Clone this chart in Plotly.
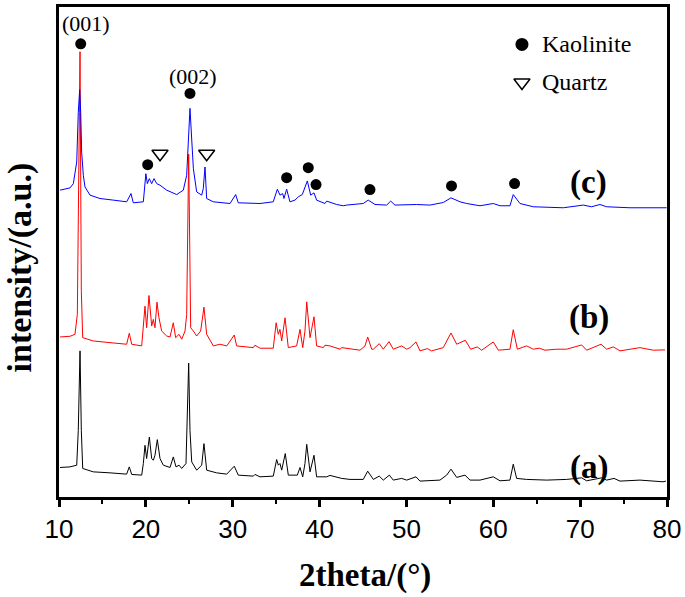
import plotly.graph_objects as go

# ---- data (2theta in degrees, intensity in a.u.) ----
two_theta_a = [10.12, 11.27, 12.04, 12.22, 12.42, 12.57, 12.73, 13.95, 15.87, 17.79, 18.09, 18.37, 19.52, 19.71,
               19.90, 20.09, 20.40, 20.67, 20.86, 21.05, 21.32, 21.63, 22.01, 22.78, 23.16, 23.47, 23.82, 24.13,
               24.62, 24.93, 25.08, 25.28, 25.85, 26.43, 26.69, 27.00, 28.15, 29.31, 30.18, 30.64, 32.37, 32.56,
               33.14, 34.67, 35.06, 35.25, 35.44, 35.64, 36.05, 36.40, 37.44, 37.75, 38.06, 38.32, 38.52, 38.90,
               39.36, 39.66, 40.82, 41.20, 42.55, 43.50, 45.03, 45.54, 46.19, 46.87, 47.34, 48.03, 48.49, 49.45,
               50.03, 51.10, 51.56, 53.86, 54.63, 55.13, 55.79, 56.74, 57.32, 58.47, 60.00, 60.77, 61.92, 62.30,
               62.69, 63.84, 66.15, 68.45, 70.17, 70.75, 72.48, 73.05, 73.90, 74.59, 76.89, 79.54, 79.88]
intensity_a = [29.7, 30.3, 32, 67, 147, 67, 28.7, 25.3, 24.3, 23, 30.3, 22.7, 22, 33.7,
               52, 38.7, 60.3, 38.7, 37, 42, 57.7, 38.7, 32, 29.7, 40.3, 30.3, 32, 28.7,
               33.7, 134.7, 67, 35.3, 27, 32, 53.7, 27, 24.3, 23, 31, 22, 21, 22.7,
               20.3, 21, 37.7, 32, 33.7, 27, 43.7, 22, 22, 29.7, 20.3, 33.7, 53, 25.3,
               42, 20.3, 20.3, 21.7, 18.7, 17.7, 17.7, 26, 17.7, 21, 17, 22, 17, 18.7,
               17, 20.3, 16, 17, 22, 28, 19.7, 22, 17, 17, 20.3, 16.3, 17, 33,
               18.7, 17.7, 17, 17.7, 19.3, 16.3, 19.3, 17, 18.7, 16, 17, 15.3, 16]

two_theta_b = [10.12, 11.27, 11.84, 12.11, 12.42, 12.57, 12.73, 13.95, 15.87, 17.79, 18.09, 18.37, 19.52, 19.71,
               19.90, 20.09, 20.36, 20.67, 20.86, 21.05, 21.28, 21.51, 21.82, 22.40, 22.78, 23.16, 23.43, 23.82,
               24.13, 24.51, 24.70, 24.93, 25.16, 25.47, 25.85, 26.31, 26.69, 27.00, 27.77, 28.54, 29.31, 30.18,
               30.45, 32.37, 32.56, 33.14, 34.67, 35.00, 35.25, 35.44, 35.64, 36.02, 36.40, 37.36, 37.75, 38.06,
               38.32, 38.52, 38.90, 39.36, 39.66, 40.43, 40.62, 41.20, 42.35, 42.55, 44.65, 45.23, 45.54, 46.00,
               46.19, 46.87, 47.34, 48.00, 48.49, 49.45, 50.03, 50.41, 51.10, 51.56, 52.40, 52.90, 54.24, 55.13,
               55.79, 56.78, 57.40, 58.16, 58.66, 60.00, 60.58, 61.92, 62.30, 62.77, 63.84, 64.61, 65.30, 65.95,
               67.30, 68.45, 70.17, 70.75, 72.40, 73.05, 73.82, 74.59, 76.89, 77.46, 78.42, 79.77]
intensity_b = [31, 31.7, 33.7, 53.7, 318, 77, 30.3, 27, 25.3, 23.7, 34.7, 23.7, 22, 40.3,
               62, 40.3, 72.7, 42, 48.7, 40.3, 66, 50.3, 37, 32, 31, 45.3, 30.3, 33.7,
               28.7, 37, 53.7, 215, 40.3, 37, 32, 37, 61, 33.7, 22, 23.7, 22, 33,
               22, 20.3, 22.7, 19.7, 19.7, 45.3, 33.7, 38.7, 27, 50.3, 20.3, 22, 38.7, 20.3,
               37, 66.3, 30.3, 51.3, 22, 20.3, 22.7, 22, 18.7, 20.3, 17.7, 22, 31, 18.7,
               18.7, 24.3, 18.7, 26.3, 18.7, 22, 18.7, 20.3, 26, 17, 19.3, 17, 20.3, 35,
               23.7, 27.7, 18.7, 21, 17.7, 26, 17.7, 18.7, 38.3, 18.7, 22, 18.7, 19.7, 17.7,
               18.7, 18.7, 23, 17.7, 23.7, 18.7, 21, 17, 20.3, 19.3, 17.7, 18]

two_theta_c = [10.12, 11.27, 11.65, 12.04, 12.22, 12.38, 12.50, 12.61, 12.80, 12.99, 13.57, 14.72, 16.25, 17.79,
               18.29, 18.55, 19.71, 20.00, 20.17, 20.40, 20.67, 20.94, 21.25, 21.63, 22.40, 23.55, 24.31, 24.70,
               25.08, 25.28, 25.47, 25.85, 26.43, 26.61, 26.81, 27.00, 27.77, 29.69, 30.34, 30.64, 33.14, 34.67,
               35.14, 35.44, 35.75, 35.90, 36.21, 36.59, 37.17, 37.55, 38.01, 38.59, 38.98, 39.36, 39.66, 40.62,
               40.82, 41.97, 42.73, 43.12, 45.03, 45.60, 46.38, 47.73, 48.19, 48.68, 50.03, 51.18, 52.71, 54.24,
               55.13, 56.17, 56.94, 58.47, 60.00, 60.77, 61.92, 62.30, 63.07, 64.61, 68.06, 70.36, 71.32, 72.28,
               73.05, 75.74, 79.96]
intensity_c = [38.7, 41, 45.3, 67, 117, 139.7, 117, 77, 53.7, 42, 33.7, 30.3, 28.7, 27,
               35.3, 26, 27, 55.3, 45.3, 50.3, 45.3, 50.3, 45.3, 43.7, 38.7, 34.3, 38.7, 53.7,
               121, 93.7, 60.3, 37, 33.7, 40.3, 62, 30.3, 27, 25.3, 34.3, 26, 25.3, 27,
               39.7, 33.7, 35.3, 30.3, 39.7, 27, 28.7, 32, 34.3, 48, 33.7, 36, 28.7, 25.3,
               27.7, 24.3, 23, 23.7, 25.3, 28.7, 24.3, 23.7, 27.7, 23.7, 24.3, 24.3, 23.7, 26.3,
               31, 27, 25.3, 23, 25.3, 23, 23, 34.3, 25.3, 22, 21, 23.7, 22, 24.3,
               22, 21, 21]

offset_a, offset_b, offset_c = 0, 130, 270

# phase markers (2theta, stacked a.u.)
kaolinite_2theta = [12.50, 25.08, 20.21, 36.21, 38.70, 39.59, 45.80, 55.19, 62.45]
kaolinite_y = [456, 406, 334.3, 321.3, 331.3, 314.3, 309.3, 313, 315.3]
quartz_2theta = [21.63, 27.0]
quartz_y = [345.3, 345.3]

x_ticks = [10, 20, 30, 40, 50, 60, 70, 80]

serif = "Liberation Serif, Times New Roman, serif"

fig = go.Figure()
for tt, inten, off, col in [(two_theta_a, intensity_a, offset_a, "#000000"),
                            (two_theta_b, intensity_b, offset_b, "#FF0000"),
                            (two_theta_c, intensity_c, offset_c, "#0000FF")]:
    fig.add_trace(go.Scatter(x=tt, y=[v + off for v in inten], mode="lines",
                             line=dict(color=col, width=1), showlegend=False, hoverinfo="skip"))

fig.add_trace(go.Scatter(x=kaolinite_2theta, y=kaolinite_y, mode="markers",
                         marker=dict(symbol="circle", size=11, color="black"), showlegend=False))
fig.add_trace(go.Scatter(x=quartz_2theta, y=quartz_y, mode="markers",
                         marker=dict(symbol="triangle-down-open", size=14, color="black",
                                     line=dict(width=1.5, color="black")), showlegend=False))

# legend (drawn in plot)
fig.add_trace(go.Scatter(x=[63.3], y=[455.3], mode="markers",
                         marker=dict(symbol="circle", size=13, color="black"), showlegend=False))
fig.add_trace(go.Scatter(x=[63.3], y=[417], mode="markers",
                         marker=dict(symbol="triangle-down-open", size=14, color="black",
                                     line=dict(width=1.5, color="black")), showlegend=False))

annos = [
    dict(x=65.4, y=455.3, text="Kaolinite", xanchor="left", font=dict(size=24, family=serif)),
    dict(x=65.4, y=418, text="Quartz", xanchor="left", font=dict(size=24, family=serif)),
    dict(x=13.1, y=476, text="(001)", xanchor="center", font=dict(size=22, family=serif)),
    dict(x=25.37, y=423, text="(002)", xanchor="center", font=dict(size=22, family=serif)),
    dict(x=71.0, y=316, text="<b>(c)</b>", xanchor="center", font=dict(size=33, family=serif)),
    dict(x=71.0, y=181, text="<b>(b)</b>", xanchor="center", font=dict(size=33, family=serif)),
    dict(x=71.0, y=30, text="<b>(a)</b>", xanchor="center", font=dict(size=33, family=serif)),
]
for a in annos:
    fig.add_annotation(xref="x", yref="y", showarrow=False, yanchor="middle", **a)

fig.add_annotation(xref="paper", yref="paper", x=-0.064, y=0.4686, text="<b>intensity/(a.u.)</b>",
                   textangle=-90, showarrow=False, xanchor="center", yanchor="middle",
                   font=dict(size=34, family=serif, color="black"))
fig.add_annotation(xref="paper", yref="paper", x=0.503, y=-0.160, text="<b>2theta/(°)</b>",
                   showarrow=False, xanchor="center", yanchor="middle",
                   font=dict(size=33, family=serif, color="black"))

fig.update_layout(
    width=685, height=597,
    margin=dict(l=59, r=18, t=4, b=100),
    paper_bgcolor="white", plot_bgcolor="white",
    font=dict(color="black"),
    xaxis=dict(range=[10, 80], tickvals=x_ticks, ticktext=[str(t) for t in x_ticks],
               ticks="outside", ticklen=7, tickwidth=2.5, tickcolor="black",
               showline=True, linewidth=3, linecolor="black", mirror=True,
               showgrid=False, zeroline=False,
               tickfont=dict(size=26, family="Liberation Sans, Arial", color="black"),
               minor=dict(tickvals=[15, 25, 35, 45, 55, 65, 75], ticks="outside", ticklen=4,
                          tickwidth=2, tickcolor="black")),
    yaxis=dict(range=[0, 493], showticklabels=False, ticks="",
               showline=True, linewidth=3, linecolor="black", mirror=True,
               showgrid=False, zeroline=False),
)

fig.write_html("out.html", config={"displayModeBar": False},
               post_script="document.body.style.margin='0px';document.body.style.overflow='hidden';")
